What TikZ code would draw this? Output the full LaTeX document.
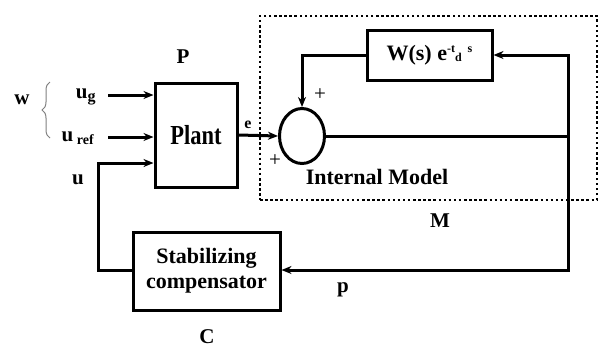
\documentclass[tikz,border=0pt]{standalone}
\usepackage{fontspec}
\setmainfont{Liberation Serif}
\usetikzlibrary{arrows.meta,shapes.geometric,decorations.pathreplacing}
\begin{document}
\begin{tikzpicture}[x=1pt,y=-1pt,
  every node/.style={font=\bfseries\fontsize{21}{23}\selectfont},
  blk/.style={draw, line width=3pt, inner sep=0pt, align=center, font=\bfseries\fontsize{22}{25}\selectfont},
  wire/.style={line width=3pt},
  arr/.style={line width=3pt, -{Stealth[length=10pt,width=8pt]}},
  lbl/.style={inner sep=0pt}]
\useasboundingbox (0,0) rectangle (601,349);
% dotted internal model box
\node[draw, line width=2.5pt, dash pattern=on 2.5pt off 2.6pt, minimum width=337pt, minimum height=184pt, inner sep=0pt] (Mbox) at (428.5,108) {};
% blocks
\node[blk, minimum width=82pt, minimum height=104pt] (plant) at (196,135) {\scalebox{0.9}[1.1]{\fontsize{25}{27}\selectfont Plant}};
\node[blk, minimum width=125pt, minimum height=50pt] (W) at (429.5,55) {W(s) e\raisebox{8pt}{\fontsize{12}{12}\selectfont -t}\raisebox{-1pt}{\fontsize{12}{12}\selectfont d}\hspace{6pt}\raisebox{8pt}{\fontsize{12}{12}\selectfont s}};
\node[blk, minimum width=147pt, minimum height=78pt] (comp) at (206.5,271) {Stabilizing\\compensator};
\node[draw, ellipse, line width=3pt, minimum width=45pt, minimum height=55pt, inner sep=0pt] (sum) at (302,136) {};
% coordinates
\coordinate (br) at (568,136);
\coordinate (tr) at (568,55);
\coordinate (bot) at (568,270);
\coordinate (ul) at (98,163);
\coordinate (ugs) at (108,95);
\coordinate (urs) at (108,137);
% connectors
\draw[arr] (plant.east) -- (sum.west);
\draw[wire] (sum.east) -- (br);
\draw[arr] (br) -- (tr) -- (W.east);
\draw[arr] (br) -- (bot) -- (comp.east |- bot);
\draw[arr] (W.west) -| (sum.north);
\draw[arr] (comp.west |- bot) -| (ul) -- (ul -| plant.west);
\draw[arr] (ugs) -- (ugs -| plant.west);
\draw[arr] (urs) -- (urs -| plant.west);
% brace
\draw[gray, line width=1pt, decorate, decoration={brace, amplitude=8pt}] (50,138) -- (50,82);
% labels
\node[lbl] (w) at (22,100) {w};
\node[lbl] (ug) at (86,97) {u\textsubscript{\fontsize{16}{16}\selectfont g}};
\node[lbl] (uref) at (78,138) {u\,\textsubscript{\fontsize{14}{14}\selectfont ref}};
\node[lbl] (u) at (78,180) {u};
\node[lbl] (P) at (183,57) {P};
\node[lbl] (e) at (248,125) {\fontsize{16}{16}\selectfont e};
\node[lbl] (p1) at (320,95) {\mdseries +};
\node[lbl] (p2) at (275,161) {\mdseries +};
\node[lbl] (im) at (377,177) {\fontsize{22}{24}\selectfont Internal Model};
\node[lbl] (M) at (440,221) {M};
\node[lbl] (p) at (343,290) {p};
\node[lbl] (C) at (207,337) {C};
\end{tikzpicture}
\end{document}
